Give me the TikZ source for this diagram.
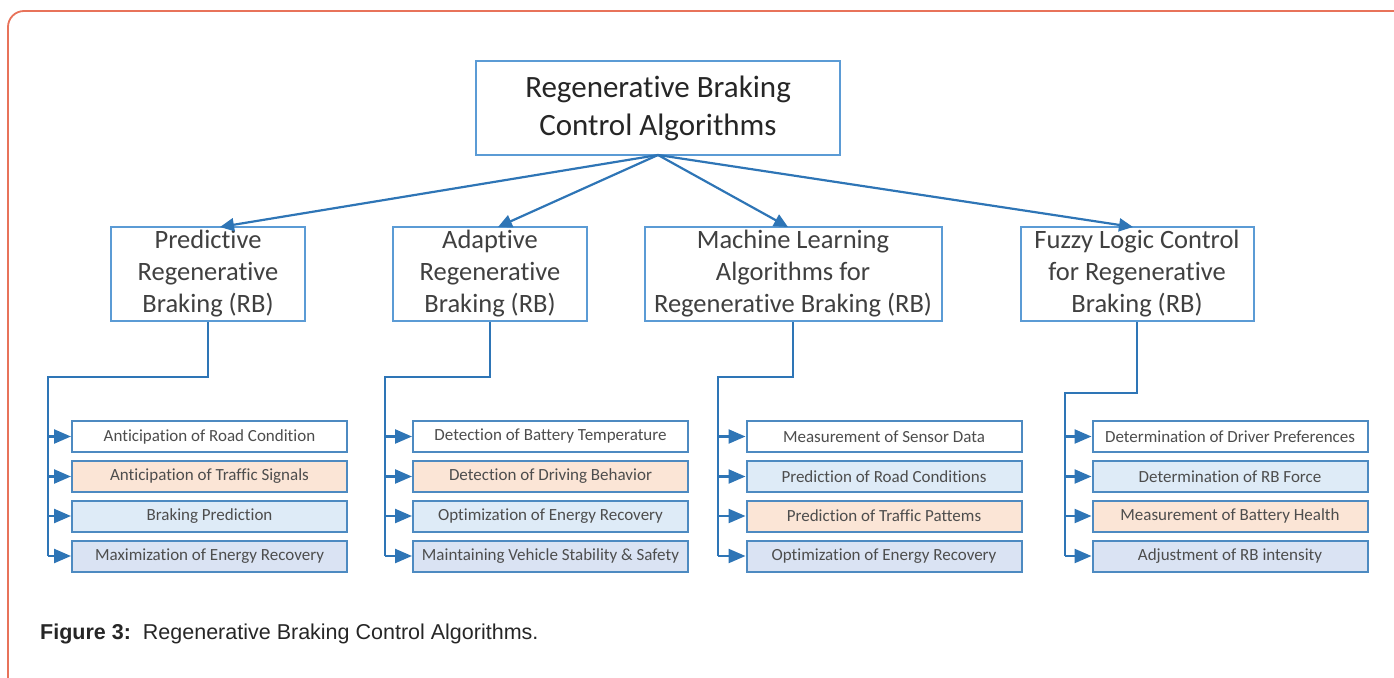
\documentclass[tikz,border=0pt]{standalone}
\usepackage{fontspec}
\setmainfont{Carlito}[Ligatures=NoCommon]
\newfontfamily\capfont{Liberation Sans}
\usetikzlibrary{arrows.meta}
\definecolor{frameRed}{HTML}{E8735A}
\definecolor{lineBlue}{HTML}{2E75B6}
\definecolor{boxBlue}{HTML}{5B9BD5}
\definecolor{peach}{HTML}{FBE5D6}
\definecolor{paleBlue}{HTML}{DEEBF7}
\definecolor{lavender}{HTML}{DAE3F3}
\definecolor{txtDark}{HTML}{262626}
\definecolor{txtGray}{HTML}{404040}
\definecolor{txtLeaf}{HTML}{4D4D4D}
\tikzset{
  rootbox/.style={draw=boxBlue, line width=2pt, fill=white, minimum width=364pt, minimum height=93pt,
    align=center, text=txtDark, font=\fontsize{31}{38}\selectfont, inner sep=0pt},
  groupbox/.style={draw=boxBlue, line width=2pt, fill=white, minimum height=94pt,
    align=center, text=txtGray, font=\fontsize{26.5}{32}\selectfont, inner sep=0pt},
  leafbox/.style={draw=lineBlue!85, line width=2pt, minimum width=275pt, minimum height=31pt,
    text=txtLeaf, font=\fontsize{17}{20}\selectfont, inner sep=0pt},
  link/.style={draw=lineBlue, line width=2.2pt, -{Triangle[length=14pt,width=13pt]}},
  elbow/.style={draw=lineBlue, line width=2.4pt},
  feed/.style={draw=lineBlue, line width=2.4pt, -{Triangle[length=17pt,width=14pt]}},
}
\begin{document}
\begin{tikzpicture}[x=1pt,y=-1pt]
\useasboundingbox (0,0) rectangle (1394,677);
% outer frame, running off the right and bottom edges
\begin{scope}
  \clip (0,0) rectangle (1394,677);
  \draw[frameRed, line width=1.8pt, rounded corners=16pt] (8,11) rectangle (1410,695);
\end{scope}

% root
\node[rootbox] (root) at (658,108) {Regenerative Braking\\Control Algorithms};

% second level
\node[groupbox, minimum width=194pt] (pred) at (208,274) {Predictive\\Regenerative\\Braking (RB)};
\node[groupbox, minimum width=194pt] (adap) at (490,274) {Adaptive\\Regenerative\\Braking (RB)};
\node[groupbox, minimum width=297pt] (ml) at (793,274) {Machine Learning\\Algorithms for\\Regenerative Braking (RB)};
\node[groupbox, minimum width=233pt] (fuzzy) at (1137,274) {Fuzzy Logic Control\\for Regenerative\\Braking (RB)};

\coordinate (rootfoot) at (658,155);
\draw[link] (rootfoot) -- (220,227);
\draw[link] (rootfoot) -- (498,227);
\draw[link] (rootfoot) -- (788,227);
\draw[link] (rootfoot) -- (1133,227);

% leaves
\node[leafbox, fill=white]    (p1) at (209.5,436.5) {Anticipation of Road Condition};
\node[leafbox, fill=peach]    (p2) at (209.5,476.5) {Anticipation of Traffic Signals};
\node[leafbox, fill=paleBlue] (p3) at (209.5,516)   {Braking Prediction};
\node[leafbox, fill=lavender] (p4) at (209.5,556)   {Maximization of Energy Recovery};

\node[leafbox, fill=white]    (a1) at (550.5,436.5) {Detection of Battery Temperature};
\node[leafbox, fill=peach]    (a2) at (550.5,476.5) {Detection of Driving Behavior};
\node[leafbox, fill=paleBlue] (a3) at (550.5,516)   {Optimization of Energy Recovery};
\node[leafbox, fill=lavender] (a4) at (550.5,556)   {Maintaining Vehicle Stability \& Safety};

\node[leafbox, fill=white]    (m1) at (884,436.5) {Measurement of Sensor Data};
\node[leafbox, fill=paleBlue] (m2) at (884,476.5) {Prediction of Road Conditions};
\node[leafbox, fill=peach]    (m3) at (884,516)   {Prediction of Traffic Pattems};
\node[leafbox, fill=lavender] (m4) at (884,556)   {Optimization of Energy Recovery};

\node[leafbox, fill=white]    (f1) at (1230,436.5) {Determination of Driver Preferences};
\node[leafbox, fill=paleBlue] (f2) at (1230,476.5) {Determination of RB Force};
\node[leafbox, fill=peach]    (f3) at (1230,516)   {Measurement of Battery Health};
\node[leafbox, fill=lavender] (f4) at (1230,556)   {Adjustment of RB intensity};

% elbow trunks
\coordinate (pt) at (48,377);
\coordinate (at) at (385,377);
\coordinate (mt) at (718,377);
\coordinate (ft) at (1065,393);
\draw[elbow] (pred.south) |- (pt) -- (pt |- p4.west);
\draw[elbow] (adap.south) |- (at) -- (at |- a4.west);
\draw[elbow] (ml.south) |- (mt) -- (mt |- m4.west);
\draw[elbow] (fuzzy.south) |- (ft) -- (ft |- f4.west);

\foreach \t/\l in {pt/p1,pt/p2,pt/p3,pt/p4,at/a1,at/a2,at/a3,at/a4,mt/m1,mt/m2,mt/m3,mt/m4,ft/f1,ft/f2,ft/f3,ft/f4}
  \draw[feed] (\t |- \l.west) -- (\l.west);

% caption
\node[anchor=base west, inner sep=0pt, font=\capfont\fontsize{21.5}{24}\selectfont, text=black!85] (cap) at (40,639)
  {\textbf{Figure 3:}\ \ Regenerative Braking Control Algorithms.};
\end{tikzpicture}
\end{document}
